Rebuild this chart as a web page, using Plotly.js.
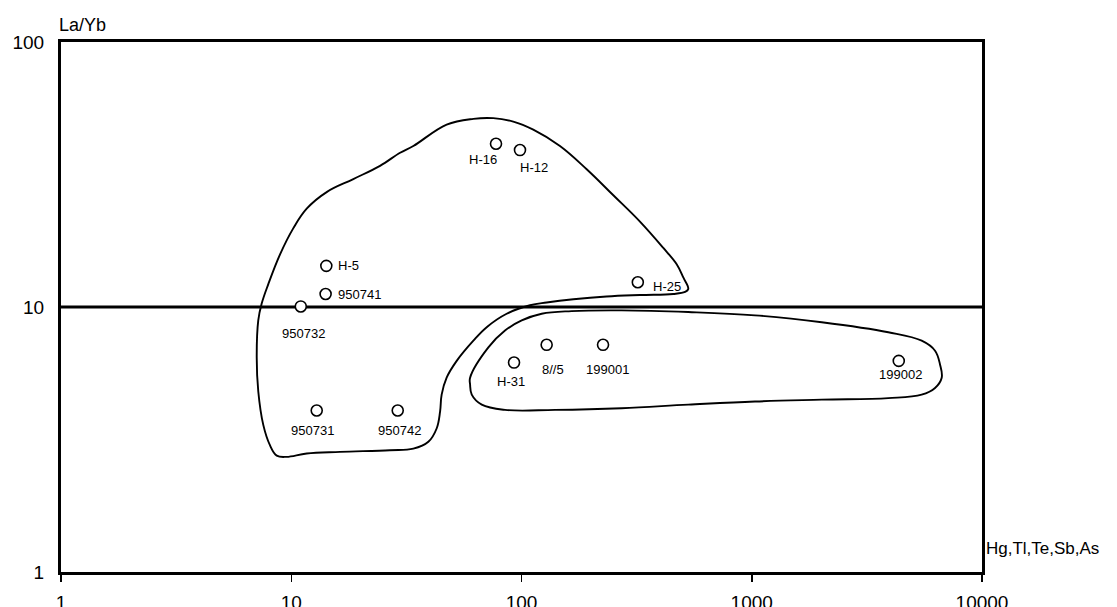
<!DOCTYPE html>
<html>
<head>
<meta charset="utf-8">
<script src="https://cdn.plot.ly/plotly-3.0.1.min.js"></script>
<style>html,body{margin:0;padding:0;background:#fff;}#chart{width:1117px;height:607px;}</style>
</head>
<body>
<div id="chart"></div>
<script>
// ---- data ----
const sampleNames = ["H-16","H-12","H-25","H-5","950741","950732","950731","950742","H-31","8//5","199001","199002"];
const sumHgTlTeSbAs = [77.5, 98.5, 320, 14.2, 14.1, 11.0, 12.9, 29.0, 92.8, 128.6, 226, 4350];
const laYb = [41.3, 39.1, 12.4, 14.3, 11.2, 10.05, 4.07, 4.07, 6.17, 7.2, 7.2, 6.26];

const xTickVals = [1, 10, 100, 1000, 10000];
const xTickText = ["1", "10", "100", "1000", "10000"];
const yTickVals = [1, 10, 100];
const yTickText = ["1", "10", "100"];
const boundaryLaYb = [10, 10];
const boundaryX = [1, 10000];

// upper (field A) envelope
const envAx = [33.9,47.3,61.8,75.4,92.1,112.5,146.9,191.9,250.5,327,413,472,505,530,513,456,327,234,168,128.6,108.9,86.2,70.6,61.8,52.3,47.3,45.0,44.3,42.8,39.4,33.9,26.8,16.3,11.67,9.55,8.65,8.08,7.56,7.19,7.08,7.19,7.44,7.95,8.94,10.2,11.67,14.3,18.6,24.3,29.7];
const envAy = [40.5,48.8,51.3,51.6,50.1,46.7,40.5,33.1,26.4,21.0,16.7,14.5,12.9,11.7,11.4,11.2,11.1,10.96,10.7,10.4,10.15,9.43,8.39,7.46,6.26,5.41,4.67,4.03,3.48,3.10,2.92,2.88,2.84,2.80,2.72,2.75,3.01,3.59,4.81,6.45,8.90,10.3,12.2,15.8,19.8,23.5,27.2,30.4,34.1,38.2];
// lower (field B) envelope
const envBx = [59.8,71.8,84.8,100.2,122.4,165,272,530,1033,2014,3918,5470,6252,6571,6683,6252,5470,3918,2014,1033,530,272,139.8,84.8,67.2,60.8,59.8];
const envBy = [5.41,7.04,8.15,8.90,9.43,9.65,9.71,9.57,9.30,8.76,8.03,7.46,6.84,6.07,5.41,4.95,4.67,4.53,4.47,4.40,4.28,4.15,4.09,4.09,4.28,4.67,5.10];

// label placement (pixel offsets from each point), style only
const labelOffsets = {
  "H-16":  {dx:-13, dy:16, anchor:"center"},
  "H-12":  {dx:14,  dy:17, anchor:"center"},
  "H-25":  {dx:13,  dy:4,  anchor:"left"},
  "H-5":   {dx:10,  dy:0,  anchor:"left"},
  "950741":{dx:10,  dy:1,  anchor:"left"},
  "950732":{dx:3,   dy:27, anchor:"center"},
  "950731":{dx:-4,  dy:20, anchor:"center"},
  "950742":{dx:2,   dy:20, anchor:"center"},
  "H-31":  {dx:-3,  dy:19, anchor:"center"},
  "8//5":  {dx:6,   dy:25, anchor:"center"},
  "199001":{dx:4,   dy:25, anchor:"center"},
  "199002":{dx:2,   dy:14, anchor:"center"}
};

const FONT = "Liberation Sans, Arial, Helvetica, sans-serif";

function closed(a){ return a.concat([a[0]]); }

const traces = [
  {x: boundaryX, y: boundaryLaYb, mode:"lines", line:{color:"#000", width:3}, hoverinfo:"skip", cliponaxis:false},
  {x: closed(envAx), y: closed(envAy), mode:"lines", line:{color:"#000", width:1.9, shape:"spline", smoothing:1.1}, hoverinfo:"skip"},
  {x: closed(envBx), y: closed(envBy), mode:"lines", line:{color:"#000", width:1.9, shape:"spline", smoothing:1.1}, hoverinfo:"skip"},
  {x: sumHgTlTeSbAs, y: laYb, mode:"markers", text: sampleNames,
   marker:{symbol:"circle", size:11, color:"#fff", line:{color:"#000", width:1.6}}, hoverinfo:"text", cliponaxis:false}
];

const annotations = sampleNames.map((n,i)=>{
  const o = labelOffsets[n];
  return {
    xref:"x", yref:"y", x: Math.log10(sumHgTlTeSbAs[i]), y: Math.log10(laYb[i]),
    text:n, showarrow:false, xanchor:o.anchor, yanchor:"middle",
    xshift:o.dx, yshift:-o.dy, font:{family:FONT, size:13, color:"#000"}
  };
});
annotations.push({xref:"paper", yref:"paper", x:-0.004, y:1, xanchor:"left", yanchor:"bottom", yshift:5,
  text:"La/Yb", showarrow:false, font:{family:FONT, size:18, color:"#000"}});
annotations.push({xref:"paper", yref:"paper", x:1, y:0, xanchor:"left", yanchor:"bottom", xshift:2, yshift:12,
  text:"Hg,Tl,Te,Sb,As", showarrow:false, font:{family:FONT, size:17, color:"#000"}});

const layout = {
  width:1117, height:607,
  margin:{l:61, r:135, t:42, b:35, pad:0},
  paper_bgcolor:"#fff", plot_bgcolor:"#fff",
  showlegend:false, hovermode:false,
  xaxis:{type:"log", range:[0,4], tickvals:xTickVals, ticktext:xTickText,
    showgrid:false, zeroline:false, showline:true, linewidth:3, linecolor:"#000", mirror:true,
    ticks:"outside", ticklen:7, tickwidth:1.5, tickcolor:"#000", ticklabelstandoff:4,
    tickfont:{family:FONT, size:19, color:"#000"}},
  yaxis:{type:"log", range:[0,2], tickvals:yTickVals, ticktext:yTickText,
    showgrid:false, zeroline:false, showline:true, linewidth:3, linecolor:"#000", mirror:true,
    ticks:"", ticklabelstandoff:10,
    tickfont:{family:FONT, size:19, color:"#000"}},
  annotations: annotations
};

Plotly.newPlot("chart", traces, layout, {displayModeBar:false, staticPlot:true});
</script>
</body>
</html>
